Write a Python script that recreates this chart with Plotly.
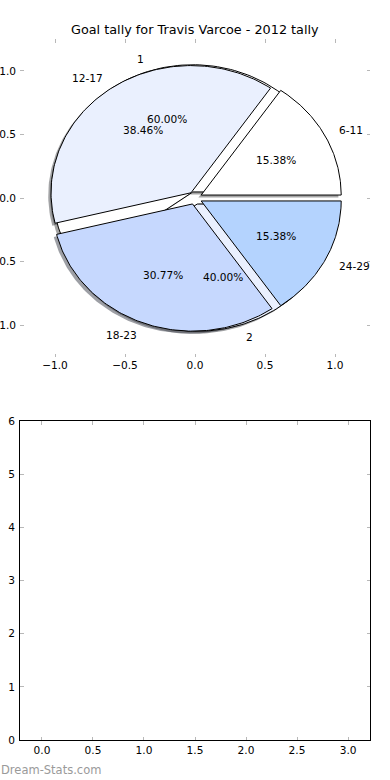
import numpy as np
import plotly.graph_objects as go

# ---------------- data ----------------
chart_title = "Goal tally for Travis Varcoe - 2012 tally"
set1_labels = ["1", "2"]
set1_values = [3, 2]
set2_labels = ["6-11", "12-17", "18-23", "24-29"]
set2_values = [2, 5, 4, 2]
slice_colors = ["#FFFFFF", "#EAF0FE", "#C6D8FE", "#B4D3FE"]

pie_tickvals = [-1.0, -0.5, 0.0, 0.5, 1.0]
pie_ticktext = ["\u22121.0", "\u22120.5", "0.0", "0.5", "1.0"]
bottom_xtickvals = [0.0, 0.5, 1.0, 1.5, 2.0, 2.5, 3.0]
bottom_xticktext = ["0.0", "0.5", "1.0", "1.5", "2.0", "2.5", "3.0"]
bottom_ytickvals = [0, 1, 2, 3, 4, 5, 6]
bottom_yticktext = ["0", "1", "2", "3", "4", "5", "6"]
watermark = "Dream-Stats.com"

# ---------------- style ----------------
EXPLODE = 0.05
PCTDIST = 0.6
LABELDIST = 1.1
SHADOW_DX, SHADOW_DY = -0.02, -0.02
FONT = "DejaVu Sans"
TICK_FS = 10.6
TITLE_FS = 12.8
TICKCOLOR = "#b8b8b8"
W, H = 390, 780


def hex_rgb(h):
    h = h.lstrip("#")
    return [int(h[i:i + 2], 16) for i in (0, 2, 4)]


def build_wedges(values, labels):
    total = float(sum(values))
    out = []
    acc = 0.0
    for i, (v, lab) in enumerate(zip(values, labels)):
        frac = v / total
        t1 = 360.0 * acc
        t2 = 360.0 * (acc + frac)
        mid = np.deg2rad(0.5 * (t1 + t2))
        cx = EXPLODE * np.cos(mid)
        cy = EXPLODE * np.sin(mid)
        th = np.deg2rad(np.linspace(t1, t2, 120))
        xs = np.concatenate([[cx], cx + np.cos(th), [cx]])
        ys = np.concatenate([[cy], cy + np.sin(th), [cy]])
        out.append(dict(xs=xs, ys=ys, cx=cx, cy=cy, mid=mid, frac=frac,
                        label=lab, color=slice_colors[i % len(slice_colors)]))
        acc += frac
    return out


pie1 = build_wedges(set1_values, set1_labels)
pie2 = build_wedges(set2_values, set2_labels)

fig = go.Figure()

# shadows (behind all wedges)
for w in pie1 + pie2:
    r, g, b = hex_rgb(w["color"])
    col = "rgba(%d,%d,%d,0.5)" % (int(0.3 * r), int(0.3 * g), int(0.3 * b))
    fig.add_trace(go.Scatter(x=w["xs"] + SHADOW_DX, y=w["ys"] + SHADOW_DY,
                             mode="lines", fill="toself", fillcolor=col,
                             line=dict(width=0, color=col), hoverinfo="skip",
                             showlegend=False, xaxis="x", yaxis="y"))

# wedges
for w in pie1 + pie2:
    fig.add_trace(go.Scatter(x=w["xs"], y=w["ys"], mode="lines", fill="toself",
                             fillcolor=w["color"],
                             line=dict(width=1, color="black"),
                             hoverinfo="skip", showlegend=False,
                             xaxis="x", yaxis="y"))

# empty trace for bottom axes
fig.add_trace(go.Scatter(x=[], y=[], xaxis="x2", yaxis="y2", showlegend=False))

annotations = []
for w in pie1 + pie2:
    c, s = np.cos(w["mid"]), np.sin(w["mid"])
    lx = w["cx"] + LABELDIST * c
    ly = w["cy"] + LABELDIST * s
    annotations.append(dict(x=lx, y=ly, xref="x", yref="y", text=w["label"],
                            showarrow=False, xanchor="left" if lx > 0 else "right",
                            yanchor="middle", borderpad=0,
                            font=dict(family=FONT, size=TICK_FS, color="black")))
    px = w["cx"] + PCTDIST * c
    py = w["cy"] + PCTDIST * s
    annotations.append(dict(x=px, y=py, xref="x", yref="y",
                            text="%.2f%%" % (100 * w["frac"]),
                            showarrow=False, xanchor="center", yanchor="middle",
                            borderpad=0,
                            font=dict(family=FONT, size=TICK_FS, color="black")))

annotations.append(dict(x=0.5, y=(H - 30) / H, xref="paper", yref="paper",
                        text=chart_title, showarrow=False, xanchor="center",
                        yanchor="middle",
                        font=dict(family=FONT, size=TITLE_FS, color="black")))
annotations.append(dict(x=0.0, y=(H - 770) / H, xref="paper", yref="paper",
                        text=watermark, showarrow=False, xanchor="left",
                        yanchor="middle", borderpad=0,
                        font=dict(family=FONT, size=11.5, color="#9a9a9a")))

common_tick = dict(ticks="inside", ticklen=3.5, tickwidth=1, tickcolor=TICKCOLOR,
                   showgrid=False, zeroline=False, automargin=False,
                   tickfont=dict(family=FONT, size=TICK_FS, color="black"),
                   fixedrange=True)

fig.update_layout(
    width=W, height=H, template="none",
    paper_bgcolor="white", plot_bgcolor="white",
    margin=dict(l=0, r=0, t=0, b=0),
    showlegend=False,
    xaxis=dict(domain=[20 / W, 370 / W], range=[-1.25, 1.25], anchor="y",
               tickmode="array", tickvals=pie_tickvals, ticktext=pie_ticktext,
               showline=False, mirror="ticks", **common_tick),
    yaxis=dict(domain=[(H - 357) / H, (H - 39) / H], range=[-1.25, 1.25],
               anchor="x", tickmode="array", tickvals=pie_tickvals,
               ticktext=pie_ticktext, showline=False, mirror="ticks",
               ticklabelstandoff=3, **common_tick),
    xaxis2=dict(domain=[20 / W, 370 / W], range=[-0.215, 3.215], anchor="y2",
                tickmode="array", tickvals=bottom_xtickvals,
                ticktext=bottom_xticktext, showline=True, linecolor="black",
                linewidth=1, mirror="ticks", **common_tick),
    yaxis2=dict(domain=[(H - 740) / H, (H - 421) / H], range=[0, 6], anchor="x2",
                tickmode="array", tickvals=bottom_ytickvals,
                ticktext=bottom_yticktext, showline=True, linecolor="black",
                linewidth=1, mirror="ticks", ticklabelstandoff=2,
                **common_tick),
    annotations=annotations,
)

fig.write_html("out.html", config={"displayModeBar": False},
               post_script="document.body.style.margin='0';"
                           "document.body.style.padding='0';"
                           "document.body.style.overflow='hidden';")
